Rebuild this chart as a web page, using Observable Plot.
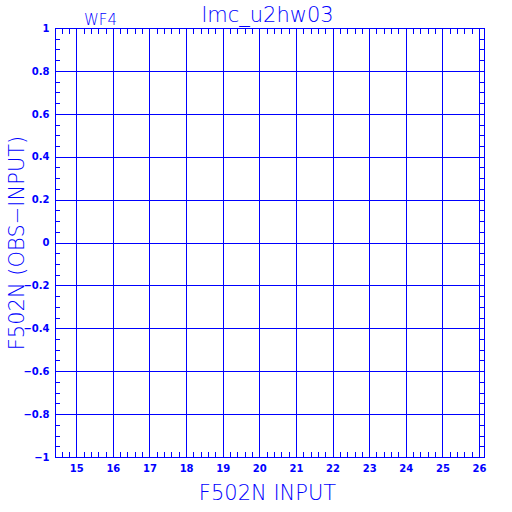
<!DOCTYPE html>
<html>
<head>
<meta charset="utf-8">
<script src="https://cdn.jsdelivr.net/npm/d3@7"></script>
<script src="https://cdn.jsdelivr.net/npm/@observablehq/plot@0.6"></script>
<style>
  html, body { margin: 0; padding: 0; background: #fff; }
  #chart svg line, #chart svg path, #chart svg rect { shape-rendering: crispEdges; }
</style>
</head>
<body>
<div id="chart"></div>
<script>
const BLUE = "#0000ff";
const title = "lmc_u2hw03";
const chip = "WF4";
const xLabel = "F502N INPUT";
const yLabel = "F502N (OBS\u2212INPUT)";
const xDomain = [14.42, 26];
const yDomain = [-1, 1];
const xMajorTicks = [15, 16, 17, 18, 19, 20, 21, 22, 23, 24, 25, 26];
const yMajorTicks = [-1, -0.8, -0.6, -0.4, -0.2, 0, 0.2, 0.4, 0.6, 0.8, 1];
const xMinorTicks = d3.range(73, 131).map(i => +(i * 0.2).toFixed(1));
const yMinorTicks = d3.range(-20, 21).map(i => +(i * 0.05).toFixed(2));

const fmtY = d => d === 0 ? "0" : (d < 0 ? "\u2212" : "") + String(Math.abs(d));

const plot = Plot.plot({
  width: 512,
  height: 512,
  marginLeft: 55,
  marginRight: 33,
  marginTop: 28,
  marginBottom: 55,
  x: {domain: xDomain},
  y: {domain: yDomain},
  style: {background: "white", color: BLUE, fontFamily: "DejaVu Sans"},
  marks: [
    Plot.gridX(xMajorTicks, {stroke: BLUE, strokeOpacity: 1, strokeWidth: 1}),
    Plot.gridY(yMajorTicks, {stroke: BLUE, strokeOpacity: 1, strokeWidth: 1}),
    Plot.frame({stroke: BLUE, strokeWidth: 1}),
    Plot.ruleX([xDomain[1]], {dx: 5, stroke: BLUE}),
    Plot.axisX(xMinorTicks, {anchor: "bottom", tickSize: -5, tickFormat: () => "", label: null, stroke: BLUE}),
    Plot.axisX(xMinorTicks, {anchor: "top", tickSize: -5, tickFormat: () => "", label: null, stroke: BLUE}),
    Plot.axisY(yMinorTicks, {anchor: "left", tickSize: -5, tickFormat: () => "", label: null, stroke: BLUE}),
    Plot.axisY(yMinorTicks, {anchor: "right", tickSize: 5, tickFormat: () => "", label: null, stroke: BLUE}),
    Plot.axisX(xMajorTicks, {anchor: "bottom", tickSize: 0, tickPadding: 7, label: null, fill: BLUE, fontSize: 10, fontWeight: "bold"}),
    Plot.axisY(yMajorTicks, {anchor: "left", tickSize: 0, tickPadding: 6, label: null, tickFormat: fmtY, fill: BLUE, fontSize: 10, fontWeight: "bold"}),
    Plot.text([title], {frameAnchor: "top", lineAnchor: "bottom", dy: -7, fill: BLUE, fontSize: 21, fontWeight: 300}),
    Plot.text([chip], {frameAnchor: "top-left", textAnchor: "middle", lineAnchor: "bottom", dx: 45, dy: -4, fill: BLUE, fontSize: 15, fontWeight: 300}),
    Plot.text([xLabel], {frameAnchor: "bottom", lineAnchor: "bottom", dy: 42, fill: BLUE, fontSize: 21, fontWeight: 300}),
    Plot.text([yLabel], {frameAnchor: "left", textAnchor: "middle", rotate: -90, lineAnchor: "middle", dx: -38, fill: BLUE, fontSize: 21, fontWeight: 300})
  ]
});
document.getElementById("chart").appendChild(plot);
</script>
</body>
</html>
